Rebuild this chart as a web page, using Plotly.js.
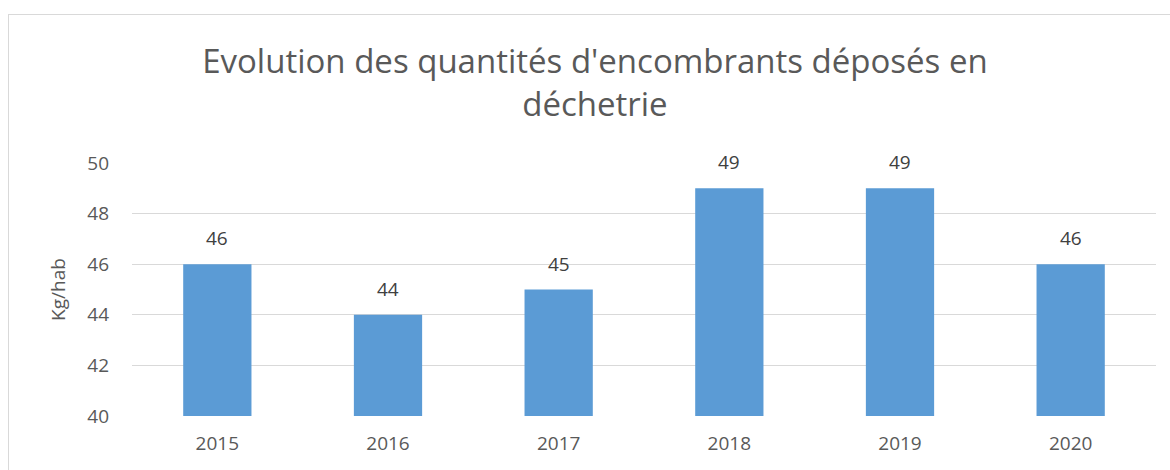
<!DOCTYPE html>
<html><head><meta charset="utf-8">
<script src="https://cdn.plot.ly/plotly-3.0.1.min.js"></script>
<style>
html,body{margin:0;padding:0;background:#fff;}
#frame{position:absolute;left:8px;top:14px;width:1200px;height:500px;border-left:1px solid #d9d9d9;border-top:1px solid #d9d9d9;}
#chart{position:absolute;left:0;top:0;width:1170px;height:470px;}
</style></head>
<body>
<div id="frame"></div>
<div id="chart"></div>
<script>
const years = ['2015','2016','2017','2018','2019','2020'];
const values = [46, 44, 45, 49, 49, 46];
const yTicks = [40, 42, 44, 46, 48, 50];

const font = "'Open Sans', 'Liberation Sans', sans-serif";
Plotly.newPlot('chart', [{
  type: 'bar', x: years, y: values,
  marker: {color: '#5b9bd5'},
  hoverinfo: 'skip'
}], {
  width: 1170, height: 470,
  margin: {l: 132, r: 14, t: 163, b: 54},
  paper_bgcolor: 'rgba(0,0,0,0)', plot_bgcolor: 'rgba(0,0,0,0)',
  bargap: 0.6,
  showlegend: false,
  annotations: years.map((yr, i) => ({
    x: i, y: values[i], xref: 'x', yref: 'y', text: String(values[i]),
    showarrow: false, yanchor: 'bottom', yshift: 11,
    font: {family: font, size: 19, color: '#404040'}
  })),
  title: {text: "Evolution des quantités d'encombrants déposés en<br>déchetrie",
    x: 0.5085, xanchor: 'center', y: 0.845, yref: 'container', yanchor: 'top',
    font: {family: font, size: 33, color: '#595959'}},
  xaxis: {type: 'category', range: [-0.5, years.length - 0.5], showgrid: false, zeroline: false, showline: false,
    ticks: '', ticklabelstandoff: 14, tickfont: {family: font, size: 19, color: '#595959'}},
  yaxis: {range: [40, 50], tickvals: yTicks, ticktext: yTicks.map(String),
    showgrid: true, gridcolor: '#d9d9d9', gridwidth: 1, zeroline: false, showline: false,
    ticks: '', ticklabelstandoff: 22,
    tickfont: {family: font, size: 19, color: '#595959'},
    title: {text: 'Kg/hab', standoff: 16, font: {family: font, size: 19, color: '#595959'}}}
}, {displayModeBar: false, staticPlot: true});
</script>
</body></html>
